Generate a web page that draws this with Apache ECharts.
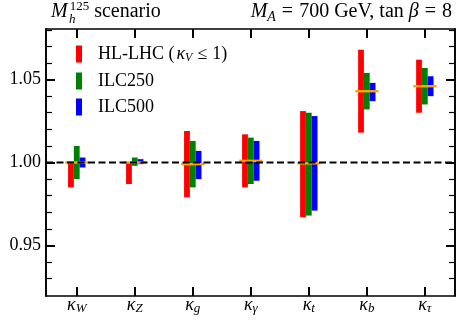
<!DOCTYPE html>
<html>
<head>
<meta charset="utf-8">
<script src="https://cdn.jsdelivr.net/npm/echarts@6/dist/echarts.min.js"></script>
<style>html,body{margin:0;padding:0;background:#fff;}#c{width:464px;height:326px;}</style>
</head>
<body>
<div id="c"></div>
<script>
const categories = ['W', 'Z', 'g', 'γ', 't', 'b', 'τ'];
const seriesNames = ['HL-LHC (κV ≤ 1)', 'ILC250', 'ILC500'];
const hlLow = [0.985, 0.987, 0.979, 0.985, 0.967, 1.018, 1.030];
const hlHigh = [1.000, 1.000, 1.019, 1.017, 1.031, 1.068, 1.062];
const ilc250Low = [0.990, 0.998, 0.985, 0.987, 0.968, 1.032, 1.035];
const ilc250High = [1.010, 1.003, 1.013, 1.015, 1.030, 1.054, 1.057];
const ilc500Low = [0.997, 0.999, 0.990, 0.989, 0.971, 1.037, 1.040];
const ilc500High = [1.003, 1.002, 1.007, 1.013, 1.028, 1.048, 1.052];
const central = [1.000, 1.000, 0.999, 1.001, 0.9995, 1.043, 1.046];
const refLine = 1.0;
const yMajorTicks = [0.95, 1.00, 1.05];
const yMinorTicks = [0.93, 0.94, 0.96, 0.97, 0.98, 0.99, 1.01, 1.02, 1.03, 1.04, 1.06, 1.07, 1.08];

const colors = ['#ff0000', '#008000', '#0000ff'];
const offsets = [-0.1, 0, 0.1];
const barHalf = 0.05;
const xPos = categories.map((c, i) => i);
const lows = [hlLow, ilc250Low, ilc500Low];
const highs = [hlHigh, ilc250High, ilc500High];

const SERIF = '"Liberation Serif", "DejaVu Serif", serif';
const xMin = -0.53, xMax = 6.52, yMin = 0.9195, yMax = 1.0805;

function st(size, italic, extra) {
  return Object.assign({ fontFamily: SERIF, fontStyle: italic ? 'italic' : 'normal', fontWeight: 'normal', fontSize: size, color: '#000' }, extra || {});
}

function barRender(offset) {
  return function (params, api) {
    const x = api.value(0), lo = api.value(1), hi = api.value(2);
    const p1 = api.coord([x + offset - barHalf, hi]);
    const p2 = api.coord([x + offset + barHalf, lo]);
    return {
      type: 'rect',
      shape: { x: p1[0], y: p1[1], width: p2[0] - p1[0], height: p2[1] - p1[1] },
      style: { fill: api.visual('color') }
    };
  };
}
function centerRender(params, api) {
  const x = api.value(0), v = api.value(1);
  const a = api.coord([x - 0.2, v]);
  const b = api.coord([x + 0.2, v]);
  return {
    type: 'line',
    shape: { x1: a[0], y1: a[1], x2: b[0], y2: b[1] },
    style: { stroke: '#ffa500', lineWidth: 2.4 }
  };
}

const series = seriesNames.map((name, k) => ({
  name: name,
  type: 'custom',
  xAxisIndex: 0, yAxisIndex: 0,
  itemStyle: { color: colors[k] },
  renderItem: barRender(offsets[k]),
  encode: { x: 0, y: [1, 2] },
  data: xPos.map(i => [i, lows[k][i], highs[k][i]]),
  z: 2
}));
series.push({
  name: 'central',
  type: 'custom',
  xAxisIndex: 0, yAxisIndex: 0,
  renderItem: centerRender,
  encode: { x: 0, y: 1 },
  data: xPos.map(i => [i, central[i]]),
  z: 3
});
series.push({
  name: 'ref',
  type: 'line',
  xAxisIndex: 0, yAxisIndex: 0,
  symbol: 'none',
  data: [[xMin, refLine], [xMax, refLine]],
  lineStyle: { color: '#000', width: 2.2, type: [7, 3.5] },
  z: 4,
  silent: true
});

const baseX = {
  type: 'value', min: xMin, max: xMax,
  axisLine: { show: true, onZero: false, lineStyle: { color: '#000', width: 1.6 } },
  splitLine: { show: false },
  axisTick: { show: true, inside: true, length: 9, lineStyle: { color: '#000', width: 2 }, customValues: xPos },
};
const baseY = {
  type: 'value', min: yMin, max: yMax,
  axisLine: { show: true, onZero: false, lineStyle: { color: '#000', width: 1.6 } },
  splitLine: { show: false }
};
const majorTick = { show: true, inside: true, length: 9, lineStyle: { color: '#000', width: 2 }, customValues: yMajorTicks };
const minorTick = { show: true, inside: true, length: 6, lineStyle: { color: '#000', width: 1.2 }, customValues: yMinorTicks };

const option = {
  animation: false,
  backgroundColor: '#fff',
  textStyle: { fontFamily: SERIF, color: '#000' },
  grid: { left: 46, right: 9, top: 29, bottom: 30, containLabel: false },
  title: [
    {
      left: 51, top: 0, padding: 0,
      text: '{i|M}{sp|125}{r| scenario}',
      textStyle: {
        fontWeight: 'normal', fontFamily: SERIF,
        rich: {
          i: st(20, true, { lineHeight: 24, verticalAlign: 'middle' }),
          sp: st(13, false, { lineHeight: 16, verticalAlign: 'top', padding: [0, 0, 0, 2] }),
          r: st(20, false, { lineHeight: 24, verticalAlign: 'middle' })
        }
      }
    },
    {
      left: 69, top: 13, padding: 0,
      text: '{s|h}',
      textStyle: { fontWeight: 'normal', fontFamily: SERIF, rich: { s: st(13, true, { lineHeight: 13 }) } }
    },
    {
      right: 12, top: 0, padding: 0,
      text: '{i|M}{sb|A}{o|=}{r|700 GeV, tan }{i|β}{o|=}{r|8}',
      textStyle: {
        fontWeight: 'normal', fontFamily: SERIF,
        rich: {
          i: st(20, true, { lineHeight: 24, verticalAlign: 'middle' }),
          sb: st(14, true, { lineHeight: 10, verticalAlign: 'bottom' }),
          o: st(20, false, { lineHeight: 24, verticalAlign: 'middle', padding: [0, 6, 0, 6] }),
          r: st(20, false, { lineHeight: 24, verticalAlign: 'middle' })
        }
      }
    }
  ],
  legend: {
    data: seriesNames,
    orient: 'vertical',
    left: 71, top: 40,
    itemWidth: 6, itemHeight: 17, itemGap: 8,
    icon: 'rect',
    selectedMode: false,
    formatter: function (name) {
      if (name.indexOf('HL-LHC') === 0) return '{r|HL-LHC (}{k|κ}{s|V}{o|≤}{r|1)}';
      return '{r|' + name + '}';
    },
    textStyle: {
      padding: [0, 0, 0, 11],
      fontFamily: SERIF,
      rich: {
        r: st(18, false, { lineHeight: 20, verticalAlign: 'middle' }),
        o: st(18, false, { lineHeight: 20, verticalAlign: 'middle', padding: [0, 5, 0, 5] }),
        k: st(18, true, { lineHeight: 20, verticalAlign: 'middle', padding: [0, 0, 0, 2] }),
        s: st(12, true, { lineHeight: 8, verticalAlign: 'bottom' })
      }
    }
  },
  xAxis: [
    Object.assign({}, baseX, {
      position: 'bottom',
      axisLabel: {
        show: true, margin: -1, customValues: xPos,
        fontFamily: SERIF,
        formatter: function (v) { return '{k|κ}{s|' + categories[Math.round(v)] + '}'; },
        rich: {
          k: st(18, true, { lineHeight: 20, verticalAlign: 'middle' }),
          s: st(13, true, { lineHeight: 10, verticalAlign: 'bottom' })
        }
      }
    }),
    Object.assign({}, baseX, { position: 'top', axisLabel: { show: false } })
  ],
  yAxis: [
    Object.assign({}, baseY, {
      position: 'left', axisTick: majorTick,
      axisLabel: {
        show: true, margin: 5, customValues: yMajorTicks,
        fontFamily: SERIF, fontSize: 18, color: '#000',
        formatter: function (v) { return '{n|' + v.toFixed(2) + '}'; },
        rich: { n: st(18, false, { lineHeight: 20 }) }
      }
    }),
    Object.assign({}, baseY, { position: 'left', axisTick: minorTick, axisLabel: { show: false } }),
    Object.assign({}, baseY, { position: 'right', axisTick: majorTick, axisLabel: { show: false } }),
    Object.assign({}, baseY, { position: 'right', axisTick: minorTick, axisLabel: { show: false } })
  ],
  series: series
};

const chart = echarts.init(document.getElementById('c'), null, { renderer: 'canvas' });
chart.setOption(option);
</script>
</body>
</html>
